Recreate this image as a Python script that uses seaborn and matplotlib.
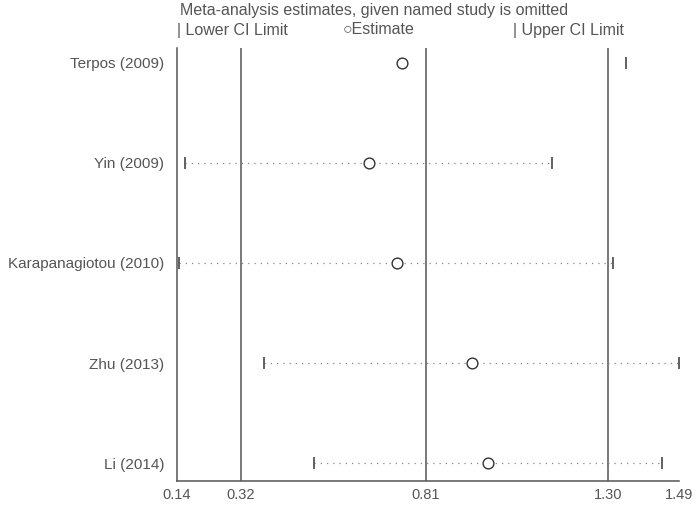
import matplotlib
matplotlib.use("Agg")
import matplotlib.pyplot as plt
import seaborn as sns
import pandas as pd

# studies, top to bottom
studies = ["Terpos (2009)", "Yin (2009)", "Karapanagiotou (2010)", "Zhu (2013)", "Li (2014)"]
estimate = [0.745, 0.657, 0.731, 0.933, 0.976]
lower_ci = [None, 0.162, 0.145, 0.374, 0.510]   # Terpos lower limit is off the axis
upper_ci = [1.347, 1.150, 1.313, 1.490, 1.444]

# overall lower CI, estimate, upper CI (vertical lines)
overall = [0.312, 0.81, 1.30]
tick_values = [0.14, 0.312, 0.81, 1.30, 1.49]
tick_labels = ["0.14", "0.32", "0.81", "1.30", "1.49"]

df = pd.DataFrame({"study": studies, "est": estimate, "lo": lower_ci, "hi": upper_ci})
df["y"] = list(range(len(studies), 0, -1))
df["lo"] = pd.to_numeric(df["lo"])

sns.set_style("white")
plt.rcParams["font.family"] = ["Liberation Sans", "DejaVu Sans"]

grey = "#555555"
fig = plt.figure(figsize=(7, 5.05), dpi=100)
ax = fig.add_axes([0.2524, 0.0475, 0.7176, 0.8575])

for x in overall:
    ax.axvline(x, color=grey, lw=1.1, zorder=1)

# dotted lines between limits (only where both limits are on the axis)
both = df.dropna(subset=["lo"])
ax.hlines(both["y"], both["lo"], both["hi"], colors="#888888", linestyles=(0, (1, 4)), lw=0.9, zorder=2)

sns.scatterplot(data=both, x="lo", y="y", marker="|", s=70, color=grey, linewidth=1.3, ax=ax, zorder=3)
sns.scatterplot(data=df, x="hi", y="y", marker="|", s=70, color=grey, linewidth=1.3, ax=ax, zorder=3)
sns.scatterplot(data=df, x="est", y="y", marker="o", s=60, facecolor="white", edgecolor="#333333",
                linewidth=1.0, ax=ax, zorder=4)

ax.set_xlim(0.14, 1.49)
ax.set_ylim(0.82, 5.15)
ax.set_xticks(tick_values)
ax.set_xticklabels(tick_labels)
ax.set_yticks(df["y"])
ax.set_yticklabels(df["study"])
ax.set_xlabel("")
ax.set_ylabel("")

for side in ["top", "right"]:
    ax.spines[side].set_visible(False)
for side in ["left", "bottom"]:
    ax.spines[side].set_color(grey)
    ax.spines[side].set_linewidth(1.1)
ax.tick_params(axis="x", length=4, width=1.0, color=grey, labelcolor=grey, labelsize=10.5, pad=1)
ax.tick_params(axis="y", length=0, labelcolor=grey, labelsize=11, pad=9)

# legend / title area
fig.text(180 / 700, 1 - 10 / 505, "Meta-analysis estimates, given named study is omitted",
         color=grey, fontsize=11.5, va="center", ha="left")
fig.text(177 / 700, 1 - 30 / 505, "| Lower CI Limit", color=grey, fontsize=11.5, va="center", ha="left")
fig.text(343 / 700, 1 - 30 / 505, "\u25cbEstimate", color=grey, fontsize=11.5, va="center", ha="left")
fig.text(513 / 700, 1 - 30 / 505, "| Upper CI Limit", color=grey, fontsize=11.5, va="center", ha="left")

fig.savefig("out.png", dpi=100)
